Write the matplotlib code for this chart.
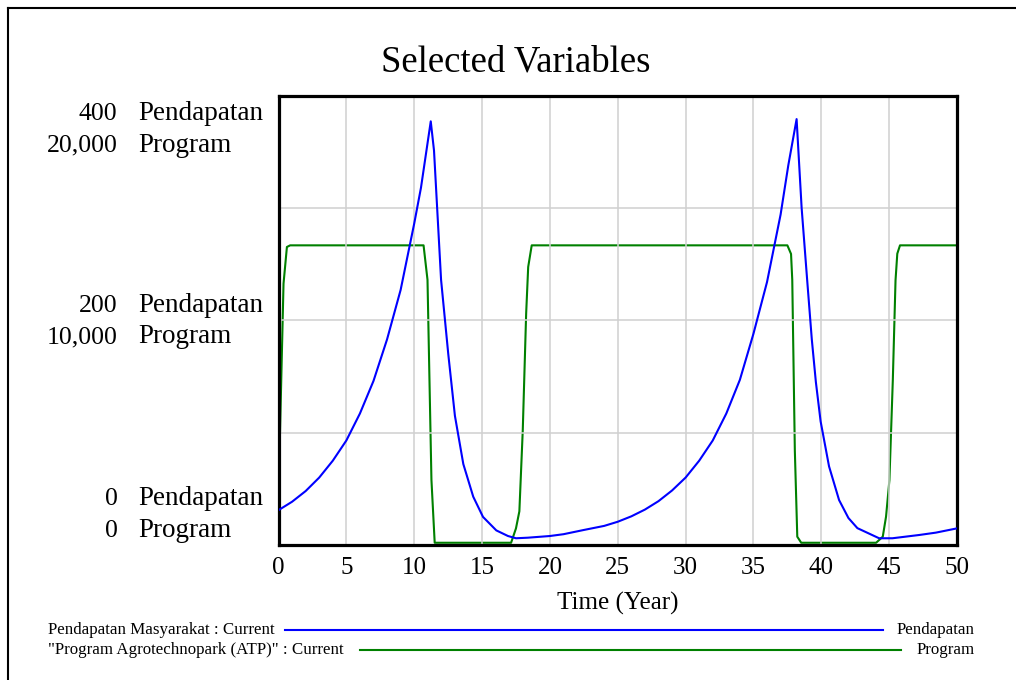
import matplotlib
matplotlib.use("Agg")
import matplotlib.pyplot as plt
from matplotlib.lines import Line2D

plt.rcParams['font.family'] = ['Liberation Serif', 'DejaVu Serif']

# ---- data ----
pend_time = [0, 1, 2, 3, 4, 5, 6, 7, 8, 9, 10, 10.5, 11.22, 11.46,
             11.98, 12.51, 13.0, 13.62, 14.35, 15.07, 16.05, 16.91, 17.5, 18.37, 20.0,
             21.0, 22.47, 24.0, 25.0, 26.0, 27.0, 28.0, 29.0, 30.0, 31.0, 32.0, 33.0,
             34.0, 35.0, 36.0, 37.0, 37.57, 38.18, 38.55, 38.97, 39.3, 39.6, 39.95,
             40.57, 41.31, 42.0, 42.66, 44.26, 45.24, 47.21, 48.44, 50.0]
pend_vals = [31, 38.5, 48, 60, 75, 93, 117, 146, 183, 227, 286, 318, 377, 351,
             236, 170, 115, 72, 43, 25, 13, 8, 6, 6.5, 8,
             9.6, 13.3, 17, 20.7, 25.5, 31.5, 39, 48.5, 60, 75, 93, 117,
             147, 188, 234, 294, 338, 379, 300, 234, 183, 145, 110,
             70, 40, 24, 15, 6, 6, 8.9, 11, 14.8]

prog_time = [0, 0.37, 0.62, 0.86, 10.69, 10.98, 11.27, 11.51, 17.14, 17.5, 17.75, 18.0,
             18.25, 18.4, 18.66, 37.5, 37.77, 37.86, 38.05, 38.23, 38.52, 44.04, 44.53,
             44.77, 45.02, 45.27, 45.47, 45.6, 45.8, 50.0]
prog_vals = [2150, 11630, 13260, 13333, 13333, 11800, 2900, 100, 100, 740, 1500, 5100,
             10300, 12370, 13333, 13333, 12950, 11800, 4200, 370, 100, 100, 370,
             1260, 2890, 7333, 11778, 12963, 13333, 13333]

x_ticks = [0, 5, 10, 15, 20, 25, 30, 35, 40, 45, 50]
pend_axis = [0, 200, 400]
prog_axis = ["0", "10,000", "20,000"]
pend_axis_txt = ["0", "200", "400"]

BLUE = "#0000ff"
GREEN = "#008000"

W, H = 1016, 680
fig = plt.figure(figsize=(W / 100, H / 100), dpi=100)
ax = fig.add_axes([278.5 / W, 1 - 545 / H, (957 - 278.5) / W, (545 - 95.5) / H])

ax.plot(pend_time, pend_vals, color=BLUE, lw=1.5, zorder=3)
ax2 = ax.twinx()
ax2.plot(prog_time, prog_vals, color=GREEN, lw=1.5, zorder=3)
ax.set_zorder(ax2.get_zorder() + 1)
ax.patch.set_visible(False)

ax.set_xlim(0, 50)
ax.set_ylim(0, 400)
ax2.set_ylim(0, 20000)
ax2.set_yticks([])
for s in ax2.spines.values():
    s.set_visible(False)

ax.set_xticks(x_ticks)
ax.set_xticklabels([str(v) for v in x_ticks], fontsize=18)
ax.set_yticks([0, 100, 200, 300, 400])
ax.set_yticklabels([])
ax.tick_params(length=0, pad=9)
ax.grid(True, color="#d0d0d0", lw=1.1)
for s in ax.spines.values():
    s.set_linewidth(2.3)
    s.set_color("black")
ax.set_xlabel("Time (Year)", fontsize=18, labelpad=9)

# y labels (two scales)
offs = {400: (-18.0, -40.5), 200: (6.0, -16.6), 0: (28.8, 6.0)}
for pv, ptxt, gtxt in zip(pend_axis, pend_axis_txt, prog_axis):
    o1, o2 = offs[pv]
    for txt, name, oy in ((ptxt, "Pendapatan", o1), (gtxt, "Program", o2)):
        ax.annotate(txt, xy=(0, pv), xycoords=("axes fraction", "data"),
                    xytext=(-116, oy), textcoords="offset points",
                    ha="right", va="baseline", fontsize=18.5, annotation_clip=False)
        ax.annotate(name, xy=(0, pv), xycoords=("axes fraction", "data"),
                    xytext=(-101, oy), textcoords="offset points",
                    ha="left", va="baseline", fontsize=19.5, annotation_clip=False)

fig.text(516 / W, 1 - 62 / H, "Selected Variables", ha="center", va="center", fontsize=26.5)

# legend
leg = [("Pendapatan Masyarakat : Current", "Pendapatan", BLUE, 630, 285, 883),
       ('"Program Agrotechnopark (ATP)" : Current', "Program", GREEN, 650, 360, 901)]
for left_txt, right_txt, col, y, x0, x1 in leg:
    fig.text(48 / W, 1 - y / H, left_txt, ha="left", va="center", fontsize=12.2)
    fig.add_artist(Line2D([x0 / W, x1 / W], [1 - y / H, 1 - y / H], color=col, lw=1.5,
                          transform=fig.transFigure))
    fig.text(975 / W, 1 - y / H, right_txt, ha="right", va="center", fontsize=12.2)

# outer frame
fig.add_artist(Line2D([8 / W, 8 / W], [0, 1 - 8 / H], color="black", lw=1.5,
                      transform=fig.transFigure))
fig.add_artist(Line2D([8 / W, 1], [1 - 8 / H, 1 - 8 / H], color="black", lw=1.5,
                      transform=fig.transFigure))

fig.savefig("out.png", dpi=100)
